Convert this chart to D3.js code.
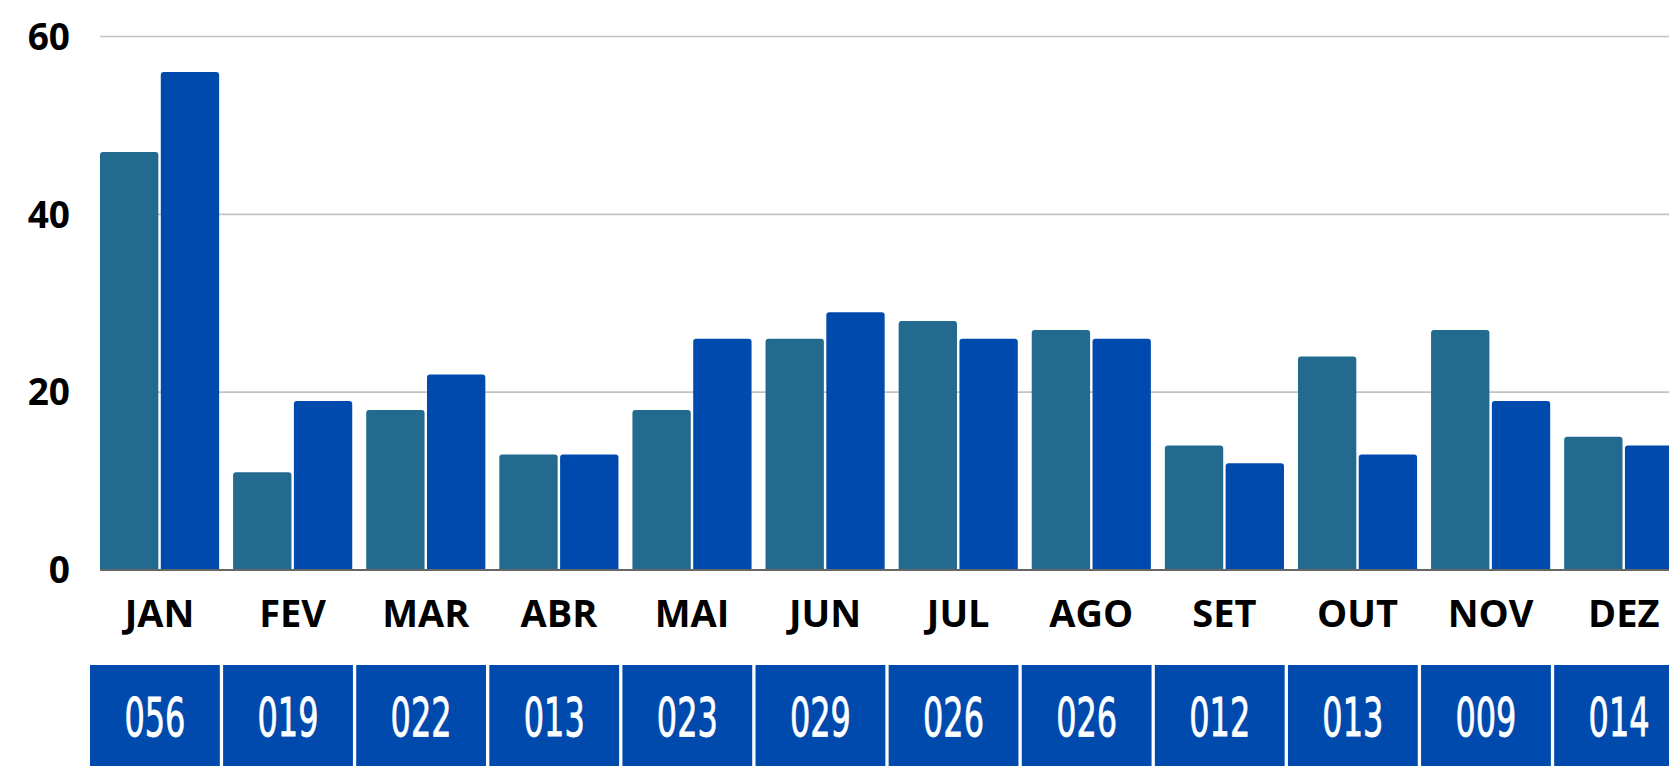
<!DOCTYPE html>
<html>
<head>
<meta charset="utf-8">
<script src="https://cdn.jsdelivr.net/npm/d3@7"></script>
<style>
  html, body { margin: 0; padding: 0; background: #fff; overflow: hidden; }
  svg { display: block; }
</style>
</head>
<body>
<div id="chart"></div>
<script>
// dados
const months = ["JAN", "FEV", "MAR", "ABR", "MAI", "JUN", "JUL", "AGO", "SET", "OUT", "NOV", "DEZ"];
const seriesA = [47, 11, 18, 13, 18, 26, 28, 27, 14, 24, 27, 15];
const seriesB = [56, 19, 22, 13, 26, 29, 26, 26, 12, 13, 19, 14];
const tableLabels = ["056", "019", "022", "013", "023", "029", "026", "026", "012", "013", "009", "014"];
const yTicks = [0, 20, 40, 60];

const width = 1669;
const height = 766;
const plotLeft = 100, plotRight = 1683.3, plotTop = 36.5, plotBottom = 570;

const svg = d3.select("#chart")
    .append("svg")
    .attr("width", width)
    .attr("height", height);

const x = d3.scaleBand()
    .domain(months)
    .range([plotLeft, plotRight])
    .paddingInner(0.105)
    .paddingOuter(0);

const xSub = d3.scaleBand()
    .domain(["a", "b"])
    .range([0, x.bandwidth()])
    .paddingInner(0.04);

const y = d3.scaleLinear()
    .domain([0, 60])
    .range([plotBottom, plotTop]);

// linhas de grade
svg.append("g")
    .selectAll("line")
    .data(yTicks.filter(d => d > 0))
    .join("line")
    .attr("x1", plotLeft)
    .attr("x2", width)
    .attr("y1", d => y(d))
    .attr("y2", d => y(d))
    .attr("stroke", "#c3c3c3")
    .attr("stroke-width", 1.6);

// rótulos do eixo y
svg.append("g")
    .selectAll("text")
    .data(yTicks)
    .join("text")
    .attr("x", 70)
    .attr("y", d => y(d))
    .attr("dy", "0.36em")
    .attr("text-anchor", "end")
    .style("font-family", "'Open Sans', 'Noto Sans', sans-serif")
    .style("font-weight", "bold")
    .style("font-size", "37px")
    .style("fill", "#000")
    .text(d => d);

// barra com cantos superiores arredondados
function topRounded(x0, y0, w, h, r) {
    r = Math.min(r, h, w / 2);
    return `M${x0},${y0 + h}V${y0 + r}Q${x0},${y0} ${x0 + r},${y0}H${x0 + w - r}Q${x0 + w},${y0} ${x0 + w},${y0 + r}V${y0 + h}Z`;
}

const groups = svg.append("g")
    .selectAll("g")
    .data(months.map((m, i) => ({ m, a: seriesA[i], b: seriesB[i] })))
    .join("g")
    .attr("transform", d => `translate(${x(d.m)},0)`);

groups.append("path")
    .attr("d", d => topRounded(xSub("a"), y(d.a), xSub.bandwidth(), y(0) - y(d.a), 3))
    .attr("fill", "#226b8f");

groups.append("path")
    .attr("d", d => topRounded(xSub("b"), y(d.b), xSub.bandwidth(), y(0) - y(d.b), 3))
    .attr("fill", "#004aad");

// linha de base
svg.append("line")
    .attr("x1", plotLeft)
    .attr("x2", width)
    .attr("y1", y(0))
    .attr("y2", y(0))
    .attr("stroke", "#666")
    .attr("stroke-width", 2);

// rótulos dos meses
svg.append("g")
    .selectAll("text")
    .data(months)
    .join("text")
    .attr("x", d => x(d) + x.bandwidth() / 2)
    .attr("y", 626.5)
    .attr("text-anchor", "middle")
    .style("font-family", "'Open Sans', 'Noto Sans', sans-serif")
    .style("font-weight", "bold")
    .style("font-size", "38px")
    .style("fill", "#000")
    .text(d => d);

// tabela inferior
const step = x.step();
const cells = svg.append("g")
    .selectAll("g")
    .data(months.map((m, i) => ({ m, label: tableLabels[i] })))
    .join("g")
    .attr("transform", d => `translate(${x(d.m) - 10},665)`);

cells.append("rect")
    .attr("width", step - 3.3)
    .attr("height", 120)
    .attr("fill", "#004aad");

cells.append("text")
    .attr("x", (step - 3.3) / 2)
    .attr("y", 70.7)
    .attr("text-anchor", "middle")
    .attr("textLength", 61)
    .attr("lengthAdjust", "spacingAndGlyphs")
    .style("font-family", "'Liberation Sans Narrow', 'DejaVu Sans Condensed', sans-serif")
    .style("font-size", "53px")
    .style("fill", "#fff")
    .style("stroke", "#fff")
    .style("stroke-width", 0.8)
    .text(d => d.label);
</script>
</body>
</html>
